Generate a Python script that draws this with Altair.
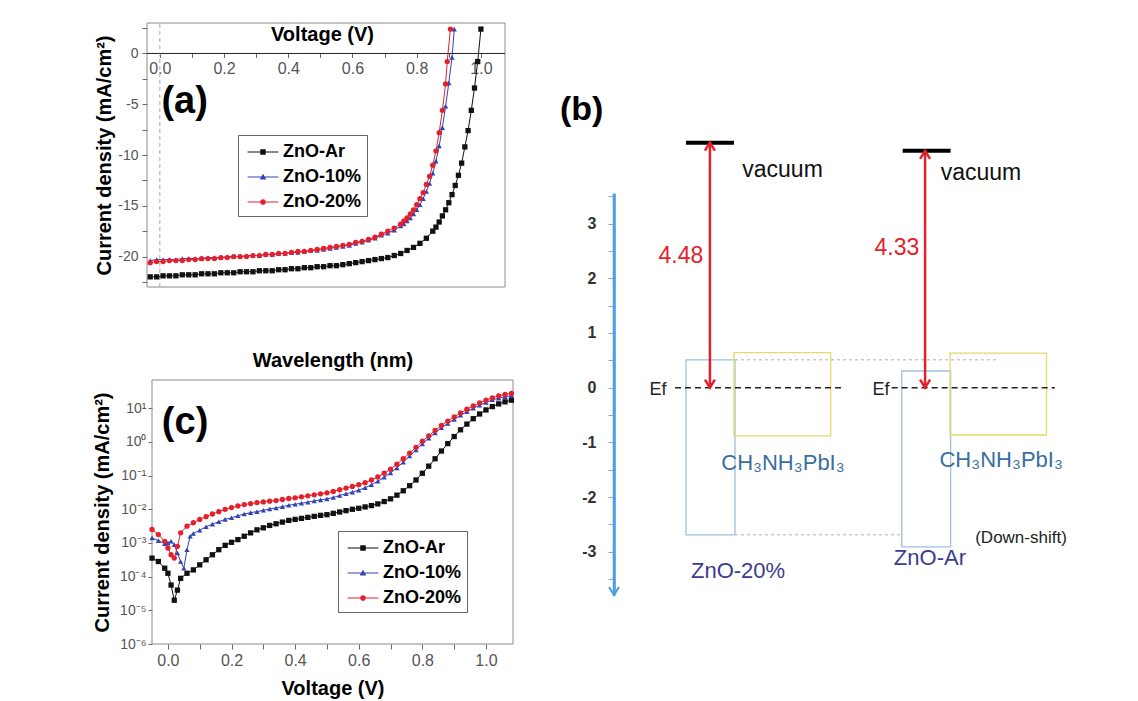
import altair as alt
import pandas as pd

FONT = "Liberation Sans"

# ------------------------------------------------------------------ series
SERIES = ["ZnO-Ar", "ZnO-10%", "ZnO-20%"]
SERIES_COLORS = ["#111111", "#3343b5", "#e3202b"]
POINT_SHAPES = ["square", "triangle-up", "circle"]

# ------------------------------------------------------------------ panel (a): J-V under light
a_ar_v = [-0.03, -0.01, 0.01, 0.03, 0.05, 0.07, 0.09, 0.11, 0.13, 0.15, 0.17, 0.19, 0.21, 0.23, 0.25,
          0.27, 0.29, 0.31, 0.33, 0.35, 0.37, 0.39, 0.41, 0.43, 0.45, 0.47, 0.49, 0.51, 0.53, 0.55,
          0.57, 0.59, 0.61, 0.63, 0.65, 0.67, 0.69, 0.71, 0.73, 0.75, 0.77, 0.79, 0.81, 0.83, 0.85,
          0.86, 0.87, 0.88, 0.89, 0.90, 0.91, 0.92, 0.93, 0.94, 0.95, 0.96, 0.97, 0.98, 0.99, 1.00]
a_ar_j = [-22.0, -22.0, -21.9, -21.9, -21.9, -21.8, -21.8, -21.8, -21.7, -21.7, -21.7, -21.6, -21.6, -21.6, -21.5,
          -21.5, -21.5, -21.4, -21.4, -21.4, -21.3, -21.3, -21.2, -21.2, -21.1, -21.1, -21.0, -21.0, -20.9, -20.9,
          -20.8, -20.7, -20.6, -20.5, -20.4, -20.3, -20.2, -20.1, -19.9, -19.7, -19.4, -19.1, -18.7, -18.2, -17.5,
          -17.1, -16.6, -16.0, -15.4, -14.7, -13.9, -13.0, -12.0, -10.8, -9.2, -7.6, -5.6, -3.4, -0.8, 2.4]

a_10_v = [-0.03, -0.01, 0.01, 0.03, 0.05, 0.07, 0.09, 0.11, 0.13, 0.15, 0.17, 0.19, 0.21, 0.23, 0.25,
          0.27, 0.29, 0.31, 0.33, 0.35, 0.37, 0.39, 0.41, 0.43, 0.45, 0.47, 0.49, 0.51, 0.53, 0.55,
          0.57, 0.59, 0.61, 0.63, 0.65, 0.67, 0.69, 0.71, 0.73, 0.75,
          0.76, 0.77, 0.78, 0.79, 0.80, 0.81, 0.82, 0.83, 0.84, 0.85, 0.86, 0.87, 0.88, 0.89, 0.90, 0.91,
          0.917]
a_10_j = [-20.4, -20.3, -20.3, -20.3, -20.3, -20.2, -20.2, -20.2, -20.2, -20.1, -20.1, -20.1, -20.0, -20.0, -20.0,
          -19.9, -19.9, -19.9, -19.8, -19.8, -19.7, -19.7, -19.6, -19.6, -19.5, -19.4, -19.4, -19.3, -19.2, -19.1,
          -19.0, -18.9, -18.7, -18.6, -18.4, -18.2, -17.9, -17.7, -17.4, -17.0,
          -16.8, -16.5, -16.2, -15.8, -15.4, -14.9, -14.3, -13.6, -12.8, -11.8, -10.6, -9.1, -7.3, -5.2, -2.9, -0.4,
          2.4]

a_20_v = [-0.03, -0.01, 0.01, 0.03, 0.05, 0.07, 0.09, 0.11, 0.13, 0.15, 0.17, 0.19, 0.21, 0.23, 0.25,
          0.27, 0.29, 0.31, 0.33, 0.35, 0.37, 0.39, 0.41, 0.43, 0.45, 0.47, 0.49, 0.51, 0.53, 0.55,
          0.57, 0.59, 0.61, 0.63, 0.65, 0.67, 0.69, 0.71, 0.73, 0.75,
          0.76, 0.77, 0.78, 0.79, 0.80, 0.81, 0.82, 0.83, 0.84, 0.85, 0.86, 0.87, 0.88, 0.89,
          0.895, 0.905]
a_20_j = [-20.6, -20.5, -20.5, -20.4, -20.4, -20.4, -20.3, -20.3, -20.2, -20.2, -20.2, -20.1, -20.1, -20.0, -20.0,
          -20.0, -19.9, -19.9, -19.8, -19.8, -19.7, -19.7, -19.6, -19.5, -19.5, -19.4, -19.3, -19.2, -19.1, -19.0,
          -18.9, -18.8, -18.6, -18.5, -18.3, -18.1, -17.8, -17.5, -17.2, -16.8,
          -16.5, -16.2, -15.8, -15.4, -14.9, -14.3, -13.7, -12.9, -12.1, -11.0, -9.6, -7.8, -5.6, -3.0,
          -0.8, 2.4]

# ------------------------------------------------------------------ panel (c): dark J-V (log10 of |J|)
c_ar_v = [-0.05, -0.03, -0.01, 0.0, 0.01, 0.02, 0.03, 0.04,
          0.06, 0.08, 0.10, 0.12, 0.14, 0.16, 0.18, 0.20, 0.22, 0.24, 0.26, 0.28, 0.30, 0.32, 0.34, 0.36,
          0.38, 0.40, 0.42, 0.44, 0.46, 0.48, 0.50, 0.52, 0.54, 0.56, 0.58, 0.60, 0.62, 0.64, 0.66, 0.68,
          0.70, 0.72, 0.74, 0.76, 0.78, 0.80, 0.82, 0.84, 0.86, 0.88, 0.90, 0.92, 0.94, 0.96, 0.98, 1.00,
          1.02, 1.04, 1.06, 1.08]
c_ar_log10j = [-3.45, -3.55, -3.75, -3.90, -4.25, -4.70, -4.40, -4.05,
               -3.90, -3.80, -3.65, -3.50, -3.35, -3.20, -3.07, -2.98, -2.90, -2.80, -2.70, -2.61, -2.55, -2.48,
               -2.43, -2.38, -2.33, -2.30, -2.27, -2.24, -2.21, -2.18, -2.16, -2.12, -2.08, -2.04, -2.00, -1.97,
               -1.93, -1.89, -1.84, -1.77, -1.69, -1.58, -1.45, -1.30, -1.13, -0.93, -0.72, -0.50, -0.27, -0.05,
               0.16, 0.36, 0.53, 0.69, 0.83, 0.95, 1.05, 1.13, 1.19, 1.24]

c_10_v = [-0.05, -0.03, -0.01, 0.0, 0.01, 0.02, 0.03, 0.04, 0.05, 0.06, 0.07, 0.08,
          0.10, 0.12, 0.14, 0.16, 0.18, 0.20, 0.22, 0.24, 0.26, 0.28, 0.30, 0.32, 0.34, 0.36,
          0.38, 0.40, 0.42, 0.44, 0.46, 0.48, 0.50, 0.52, 0.54, 0.56, 0.58, 0.60, 0.62, 0.64, 0.66, 0.68,
          0.70, 0.72, 0.74, 0.76, 0.78, 0.80, 0.82, 0.84, 0.86, 0.88, 0.90, 0.92, 0.94, 0.96, 0.98, 1.00,
          1.02, 1.04, 1.06, 1.08]
c_10_log10j = [-2.85, -2.93, -3.02, -3.00, -2.95, -3.05, -3.30, -3.55, -3.75, -3.20, -2.80, -2.72,
               -2.62, -2.52, -2.44, -2.37, -2.30, -2.25, -2.19, -2.14, -2.10, -2.07, -2.03, -1.99, -1.96, -1.92,
               -1.88, -1.85, -1.82, -1.79, -1.75, -1.72, -1.69, -1.65, -1.59, -1.54, -1.49, -1.43, -1.36, -1.27,
               -1.17, -1.05, -0.92, -0.77, -0.60, -0.42, -0.24, -0.06, 0.11, 0.27, 0.42, 0.55, 0.67, 0.79,
               0.90, 1.00, 1.09, 1.17, 1.25, 1.30, 1.34, 1.37]

c_20_v = list(c_ar_v)
c_20_log10j = [-2.60, -2.75, -2.95, -3.15, -3.35, -3.45, -3.10, -2.70,
               -2.50, -2.40, -2.30, -2.22, -2.14, -2.07, -2.00, -1.95, -1.90, -1.86, -1.83, -1.80, -1.78, -1.76,
               -1.74, -1.71, -1.68, -1.66, -1.63, -1.60, -1.57, -1.54, -1.51, -1.47, -1.42, -1.37, -1.32, -1.27,
               -1.21, -1.13, -1.04, -0.93, -0.81, -0.66, -0.50, -0.33, -0.16, 0.02, 0.18, 0.34, 0.49, 0.62,
               0.74, 0.86, 0.97, 1.07, 1.16, 1.24, 1.31, 1.37, 1.41, 1.44]

# ------------------------------------------------------------------ panel (b): energy diagram (eV, Ef = 0)
b_vac_x0 = [1.636, 6.56]
b_vac_x1 = [2.727, 7.65]
b_vac_level = [4.48, 4.33]
b_arrow_x = [2.18, 7.07]
b_box_x0 = [1.636, 2.727, 6.54, 7.636]
b_box_x1 = [2.75, 4.925, 7.65, 9.83]
b_box_top = [0.51, 0.64, 0.305, 0.63]
b_box_bottom = [-2.69, -0.88, -2.91, -0.865]
b_box_kind = ["ZnO", "perovskite", "ZnO", "perovskite"]
b_ef_x0 = [1.386, 6.31]
b_ef_x1 = [5.175, 10.02]
b_dot_x0 = [2.75, 2.75]
b_dot_x1 = [8.70, 6.545]
b_dot_y = [0.51, -2.69]
b_text = ["4.48", "vacuum", "Ef", "CH₃NH₃PbI₃", "ZnO-20%",
          "4.33", "vacuum", "Ef", "CH₃NH₃PbI₃", "ZnO-Ar", "(Down-shift)"]
b_text_x = [1.52, 3.83, 1.0, 3.84, 2.82, 6.43, 8.34, 6.07, 8.80, 7.18, 9.25]
b_text_y = [2.40, 3.98, -0.04, -1.38, -3.36, 2.55, 3.92, -0.04, -1.32, -3.12, -2.75]
b_text_role = ["gap", "vac", "ef", "pero", "zno", "gap", "vac", "ef", "pero", "zno", "note"]
b_ticks = [-3.5, -3, -2.5, -2, -1.5, -1, -0.5, 0, 0.5, 1, 1.5, 2, 2.5, 3, 3.5]

# text styles per role (style, not data)
ROLE_STYLE = {"gap": ("#e3202b", 23), "vac": ("#111111", 23), "ef": ("#222222", 18),
              "pero": ("#3b6e9e", 22), "zno": ("#3c3c8e", 22), "note": ("#222222", 17)}

# ------------------------------------------------------------------ layout (pixel placement of each panel)
W, H = 1138, 701
A_X_DOM, A_Y_DOM = [-0.04, 1.075], [-23.0, 3.0]
A_X_RANGE, A_Y_RANGE = [147, 505], [287, 23]
C_X_DOM, C_Y_DOM = [-0.05, 1.085], [1e-6, 69.0]
C_X_RANGE, C_Y_RANGE = [152, 513], [644, 380]
B_X_DOM, B_Y_DOM = [0.0, 10.0], [-3.79, 3.55]
B_X_RANGE, B_Y_RANGE = [614, 1054], [595, 193.5]

a_ticks_x = [0, 0.1, 0.2, 0.3, 0.4, 0.5, 0.6, 0.7, 0.8, 0.9, 1.0]
a_ticks_y = [-22.5, -20, -17.5, -15, -12.5, -10, -7.5, -5, -2.5, 0, 2.5]
c_ticks_y = [1e-6, 1e-5, 1e-4, 1e-3, 1e-2, 1e-1, 1, 10]


def lin(dom, rng):
    return alt.Scale(domain=dom, range=rng, nice=False, zero=False)


SAX, SAY = lin(A_X_DOM, A_X_RANGE), lin(A_Y_DOM, A_Y_RANGE)
SCX = lin(C_X_DOM, C_X_RANGE)
SCY = alt.Scale(type="log", domain=C_Y_DOM, range=C_Y_RANGE, nice=False)
SBX, SBY = lin(B_X_DOM, B_X_RANGE), lin(B_Y_DOM, B_Y_RANGE)

COLOR_SCALE = alt.Scale(domain=SERIES, range=SERIES_COLORS)
SHAPE_SCALE = alt.Scale(domain=SERIES, range=POINT_SHAPES)
LINE_STUB = "M-1.4,-0.05H1.4V0.05H-1.4Z "
LEGEND_PATHS = [
    LINE_STUB + "M-0.25,-0.25H0.25V0.25H-0.25Z",
    LINE_STUB + "M0,-0.3L0.3,0.22L-0.3,0.22Z",
    LINE_STUB + "M0.26,0A0.26,0.26 0 1,1 -0.26,0A0.26,0.26 0 1,1 0.26,0Z",
]
LEGEND_SHAPE_SCALE = alt.Scale(domain=SERIES, range=LEGEND_PATHS)

y_zero_px = A_Y_RANGE[0] + (0 - A_Y_DOM[0]) / (A_Y_DOM[1] - A_Y_DOM[0]) * (A_Y_RANGE[1] - A_Y_RANGE[0])

LABEL_GREY = "#555555"
even_tenths = "abs(round(datum.value * 10) % 2) == 0 ? format(datum.value, '.1f') : ''"
every_five = "datum.value % 5 == 0 ? replace(format(datum.value, 'd'), '\u2212', '-') : ''"
integers = "datum.value % 1 == 0 ? replace(format(datum.value, 'd'), '\u2212', '-') : ''"

a_xaxis = alt.Axis(orient="bottom", offset=y_zero_px - H, values=a_ticks_x, labelExpr=even_tenths,
                   domain=False, grid=False, tickSize=4, tickColor="#666666", labelFont=FONT,
                   labelFontSize=16, labelColor=LABEL_GREY, labelPadding=3, labelOverlap=False,
                   labelFlush=False, title="Voltage (V)", titleFont=FONT, titleFontSize=20,
                   titleFontWeight="bold", titleColor="black", titleX=322, titleY=-19,
                   titleBaseline="middle")
a_yaxis = alt.Axis(orient="left", offset=-A_X_RANGE[0], values=a_ticks_y, labelExpr=every_five,
                   domain=False, grid=False, tickSize=5, tickColor="#666666", labelFont=FONT,
                   labelFontSize=14, labelColor=LABEL_GREY, labelPadding=4, labelOverlap=False,
                   labelFlush=False, title="Current density (mA/cm²)", titleFont=FONT, titleFontSize=20,
                   titleFontWeight="bold", titleColor="black", titleX=104 - A_X_RANGE[0],
                   titleBaseline="middle")
c_xaxis = alt.Axis(orient="bottom", offset=C_Y_RANGE[0] - H, values=a_ticks_x, labelExpr=even_tenths,
                   domain=False, grid=False, tickSize=5, tickColor="#666666", labelFont=FONT,
                   labelFontSize=16, labelColor=LABEL_GREY, labelPadding=3, labelOverlap=False,
                   labelFlush=False, title="Voltage (V)", titleFont=FONT, titleFontSize=20,
                   titleFontWeight="bold", titleColor="black", titleY=44, titleBaseline="middle")
log_labels = ("datum.value > 5 ? '10¹' : datum.value > 0.5 ? '10⁰' : datum.value > 0.05 ? '10⁻¹' : "
              "datum.value > 0.005 ? '10⁻²' : datum.value > 0.0005 ? '10⁻³' : datum.value > 0.00005 ? '10⁻⁴' : "
              "datum.value > 0.000005 ? '10⁻⁵' : '10⁻⁶'")
c_yaxis = alt.Axis(orient="left", offset=-C_X_RANGE[0], values=c_ticks_y, labelExpr=log_labels,
                   domain=False, grid=False, tickSize=4, tickColor="#666666", labelFont=FONT,
                   labelFontSize=14, labelColor=LABEL_GREY, labelPadding=2, labelOverlap=False,
                   labelFlush=False, title="Current density (mA/cm²)", titleFont=FONT, titleFontSize=20,
                   titleFontWeight="bold", titleColor="black", titleX=102 - C_X_RANGE[0],
                   titleBaseline="middle")
c_topaxis = alt.Axis(orient="top", offset=-C_Y_RANGE[1], labels=False, ticks=False, domain=False,
                     grid=False, title="Wavelength (nm)", titleFont=FONT, titleFontSize=20,
                     titleFontWeight="bold", titleColor="black", titleY=-20, titleBaseline="middle")
b_yaxis = alt.Axis(orient="left", offset=-B_X_RANGE[0], values=b_ticks, labelExpr=integers,
                   domain=True, domainColor="#4a9fe3", domainWidth=2.5, grid=False, tickSize=6,
                   tickColor="#8aa9c4", labelFont=FONT, labelFontSize=16, labelFontWeight="bold",
                   labelColor="#333333", labelPadding=12, labelOverlap=False, labelFlush=False, title=None)


def legend_at(x, y):
    return alt.Legend(orient="none", legendX=x, legendY=y, title=None, strokeColor="#666666",
                      fillColor="white", padding=5, symbolSize=484, symbolOffset=8, labelOffset=8,
                      rowPadding=4, labelFont=FONT, labelFontSize=18, labelFontWeight="bold",
                      labelColor="black")


def series_frame(vs, ys, transform=None):
    rows = []
    for name, v_list, y_list in zip(SERIES, vs, ys):
        for v, y in zip(v_list, y_list):
            rows.append({"series": name, "v": v, "y": (10 ** y) if transform == "log" else y})
    return pd.DataFrame(rows)


a_df = series_frame([a_ar_v, a_10_v, a_20_v], [a_ar_j, a_10_j, a_20_j])
c_df = series_frame([c_ar_v, c_10_v, c_20_v], [c_ar_log10j, c_10_log10j, c_20_log10j], "log")
legend_df = pd.DataFrame({"series": SERIES, "v": [None] * 3, "y": [None] * 3})


def frame(sx, sy, xdom, ydom, xaxis, yaxis):
    df = pd.DataFrame({"x": [xdom[0]], "x2": [xdom[1]], "y": [ydom[0]], "y2": [ydom[1]]})
    return alt.Chart(df).mark_rect(fillOpacity=0, stroke="#8a8a8a", strokeWidth=1).encode(
        x=alt.X("x:Q", scale=sx, axis=xaxis), x2="x2:Q",
        y=alt.Y("y:Q", scale=sy, axis=yaxis), y2="y2:Q")


def curves(df, sx, sy, axis_x=None):
    lines = alt.Chart(df).mark_line(strokeWidth=1).encode(
        x=alt.X("v:Q", scale=sx, axis=axis_x), y=alt.Y("y:Q", scale=sy, axis=None),
        color=alt.Color("series:N", scale=COLOR_SCALE, legend=None))
    pts = alt.Chart(df).mark_point(filled=True, opacity=1, size=28).encode(
        x=alt.X("v:Q", scale=sx, axis=None), y=alt.Y("y:Q", scale=sy, axis=None),
        color=alt.Color("series:N", scale=COLOR_SCALE, legend=None),
        shape=alt.Shape("series:N", scale=SHAPE_SCALE, legend=None))
    return [lines, pts]


def legend_layer(sx, sy, lx, ly):
    leg = legend_at(lx, ly)
    return alt.Chart(legend_df).mark_point(filled=True, opacity=1).encode(
        x=alt.X("v:Q", scale=sx, axis=None), y=alt.Y("y:Q", scale=sy, axis=None),
        color=alt.Color("series:N", scale=COLOR_SCALE, legend=leg),
        shape=alt.Shape("series:N", scale=LEGEND_SHAPE_SCALE, legend=leg))


def panel_label(text, x, y, sx, sy, size):
    df = pd.DataFrame({"x": [x], "y": [y], "t": [text]})
    return alt.Chart(df).mark_text(font=FONT, fontSize=size, fontWeight="bold", align="left",
                                   baseline="middle", color="black").encode(
        x=alt.X("x:Q", scale=sx, axis=None), y=alt.Y("y:Q", scale=sy, axis=None), text="t:N")


# ---------------- panel (a)
a_layers = [
    frame(SAX, SAY, A_X_DOM, A_Y_DOM, a_xaxis, a_yaxis),
    alt.Chart(pd.DataFrame({"x": [A_X_DOM[0]], "x2": [A_X_DOM[1]], "y": [0.0]})).mark_rule(
        color="#222222", strokeWidth=1).encode(
        x=alt.X("x:Q", scale=SAX, axis=None), x2="x2:Q", y=alt.Y("y:Q", scale=SAY, axis=None)),
    alt.Chart(pd.DataFrame({"x": [0.0], "y": [A_Y_DOM[0]], "y2": [A_Y_DOM[1]]})).mark_rule(
        color="#aaaaaa", strokeWidth=1, strokeDash=[4, 3]).encode(
        x=alt.X("x:Q", scale=SAX, axis=None), y=alt.Y("y:Q", scale=SAY, axis=None), y2="y2:Q"),
    *curves(a_df, SAX, SAY),
    legend_layer(SAX, SAY, 238, 135),
    panel_label("(a)", 0.005, -4.8, SAX, SAY, 38),
]

# ---------------- panel (c)
c_layers = [
    frame(SCX, SCY, C_X_DOM, C_Y_DOM, c_xaxis, c_yaxis),
    *curves(c_df, SCX, SCY, axis_x=c_topaxis),
    legend_layer(SCX, SCY, 338, 531),
    panel_label("(c)", -0.019, 3.6, SCX, SCY, 38),
]

# ---------------- panel (b)
box_df = pd.DataFrame({"x": b_box_x0, "x2": b_box_x1, "y": b_box_bottom, "y2": b_box_top,
                       "kind": b_box_kind})
vac_df = pd.DataFrame({"x": b_vac_x0, "x2": b_vac_x1, "y": b_vac_level})
arrow_df = pd.DataFrame({"x": b_arrow_x, "y": [0.0, 0.0], "y2": b_vac_level})
ef_df = pd.DataFrame({"x": b_ef_x0, "x2": b_ef_x1, "y": [0.0, 0.0]})
dot_df = pd.DataFrame({"x": b_dot_x0, "x2": b_dot_x1, "y": b_dot_y})
text_df = pd.DataFrame({"x": b_text_x, "y": b_text_y, "t": b_text,
                        "col": [ROLE_STYLE[r][0] for r in b_text_role],
                        "fs": [ROLE_STYLE[r][1] for r in b_text_role]})


def bx(f="x"):
    return alt.X(f"{f}:Q", scale=SBX, axis=None)


def by(f="y", axis=None):
    return alt.Y(f"{f}:Q", scale=SBY, axis=axis)


b_layers = [
    alt.Chart(pd.DataFrame({"x": [0.0], "y": [B_Y_DOM[0]], "y2": [B_Y_DOM[1]]})).mark_rule(
        color="#4a9fe3", strokeWidth=2.5).encode(x=bx(), y=by(axis=b_yaxis), y2="y2:Q"),
    alt.Chart(pd.DataFrame({"x": [0.0], "y": [B_Y_DOM[0]]})).mark_point(
        shape="M-1,-1.6L0,0L1,-1.6", filled=False, size=100, stroke="#4a9fe3", strokeWidth=2,
        opacity=1).encode(x=bx(), y=by()),
    alt.Chart(dot_df).mark_rule(color="#c9c9d6", strokeWidth=1.5, strokeDash=[3, 3]).encode(
        x=bx(), x2="x2:Q", y=by()),
    alt.Chart(box_df).mark_rect(fillOpacity=0, strokeWidth=1.3).encode(
        x=bx(), x2="x2:Q", y=by(), y2="y2:Q",
        stroke=alt.Stroke("kind:N", scale=alt.Scale(domain=["ZnO", "perovskite"],
                                                    range=["#9dc0df", "#e6da6a"]), legend=None)),
    alt.Chart(ef_df).mark_rule(color="#222222", strokeWidth=1.5, strokeDash=[6, 4]).encode(
        x=bx(), x2="x2:Q", y=by()),
    alt.Chart(vac_df).mark_rule(color="black", strokeWidth=4).encode(x=bx(), x2="x2:Q", y=by()),
    alt.Chart(arrow_df).mark_rule(color="#e3202b", strokeWidth=2.5).encode(x=bx(), y=by(), y2="y2:Q"),
    alt.Chart(pd.DataFrame({"x": b_arrow_x, "y": b_vac_level})).mark_point(
        shape="M-1,1.6L0,0L1,1.6", filled=False, size=100, stroke="#e3202b", strokeWidth=2.5,
        opacity=1).encode(x=bx(), y=by()),
    alt.Chart(pd.DataFrame({"x": b_arrow_x, "y": [0.0, 0.0]})).mark_point(
        shape="M-1,-1.6L0,0L1,-1.6", filled=False, size=100, stroke="#e3202b", strokeWidth=2.5,
        opacity=1).encode(x=bx(), y=by()),
    alt.Chart(text_df).mark_text(font=FONT, align="center", baseline="middle").encode(
        x=bx(), y=by(), text="t:N",
        color=alt.Color("col:N", scale=None), size=alt.Size("fs:Q", scale=None)),
    panel_label("(b)", -1.23, 5.08, SBX, SBY, 34),
]

chart = alt.layer(*a_layers, *c_layers, *b_layers).resolve_scale(
    x="independent", y="independent", color="independent", shape="independent",
    stroke="independent"
).resolve_axis(x="independent", y="independent").resolve_legend(
    color="independent", shape="independent", stroke="independent"
).properties(
    width=W, height=H, padding=0, autosize=alt.AutoSizeParams(type="none"), background="white"
).configure_view(stroke=None)

chart.save("out.html", embed_options={"renderer": "svg", "actions": False})
